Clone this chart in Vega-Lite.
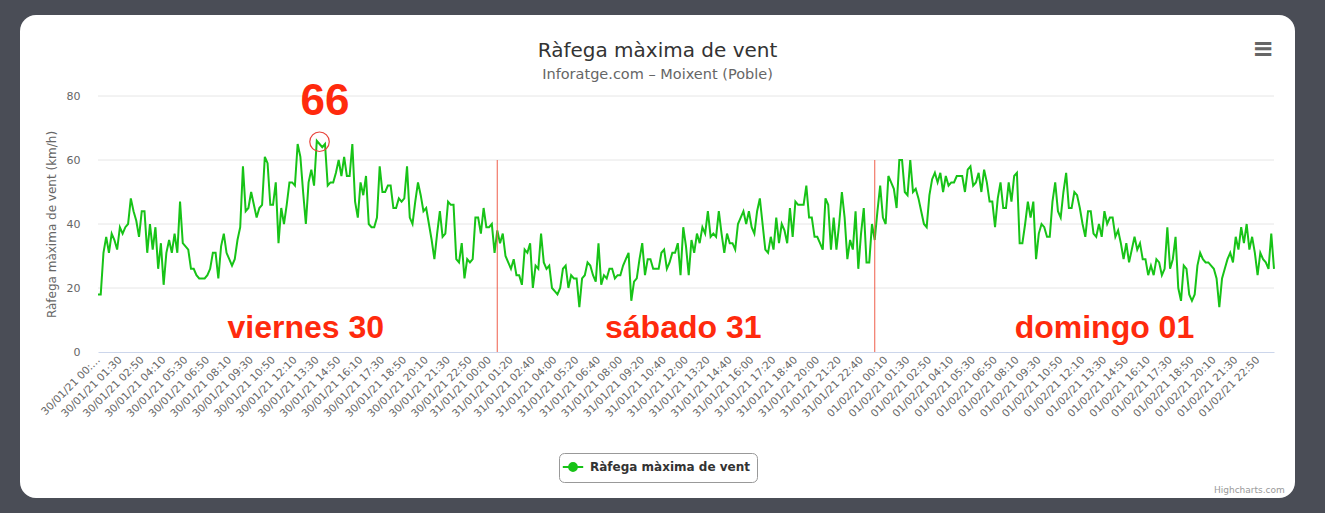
{
"$schema": "https://vega.github.io/schema/vega-lite/v6.json",
"width": 1275, "height": 483,
"autosize": {"type": "none"},
"padding": {"left": 20, "top": 15, "right": 30, "bottom": 15},
"background": "#4a4d56",
"config": {
  "view": {"fill": "white", "stroke": null, "cornerRadius": 16},
  "font": "DejaVu Sans",
  "legend": {"layout": {"bottom": {"anchor": "middle"}}}
},
"title": {"text": "Ràfega màxima de vent", "subtitle": "Inforatge.com – Moixent (Poble)", "anchor": "middle", "frame": "group", "offset": -66, "font": "DejaVu Sans", "fontSize": 20, "fontWeight": "normal", "color": "#333333", "subtitleFont": "DejaVu Sans", "subtitleFontSize": 14.5, "subtitleColor": "#666666", "subtitlePadding": 7},
"datasets": {
"grid": [{"g":20,"xa":"2021-01-30 00:10","xb":"2021-02-01 23:50"},{"g":40,"xa":"2021-01-30 00:10","xb":"2021-02-01 23:50"},{"g":60,"xa":"2021-01-30 00:10","xb":"2021-02-01 23:50"},{"g":80,"xa":"2021-01-30 00:10","xb":"2021-02-01 23:50"}],
"days": [{"t":"2021-01-31 00:30"},{"t":"2021-01-31 23:30"}],
"circle": [{"t":"2021-01-30 13:40","v":65.7}],
"big": [{"t":"2021-01-30 14:00","v":78,"txt":"66"}],
"daynames": [{"t":"2021-01-30 12:50","v":7.6,"txt":"viernes 30"},{"t":"2021-01-31 11:50","v":7.6,"txt":"sábado 31"},{"t":"2021-02-01 13:30","v":7.6,"txt":"domingo 01"}],
"menu": [{"t":"2021-02-01 23:10","v":94.7,"txt":"≡"}],
"credit": [{"t":"2021-02-01 22:20","v":-43.1,"txt":"Highcharts.com"}],
"wind": [
{"t":"2021-01-30 00:10","v":18},{"t":"2021-01-30 00:20","v":18},{"t":"2021-01-30 00:30","v":31},{"t":"2021-01-30 00:40","v":36},{"t":"2021-01-30 00:50","v":31},
{"t":"2021-01-30 01:00","v":37},{"t":"2021-01-30 01:10","v":35},{"t":"2021-01-30 01:20","v":32},{"t":"2021-01-30 01:30","v":39},{"t":"2021-01-30 01:40","v":37},{"t":"2021-01-30 01:50","v":39},
{"t":"2021-01-30 02:00","v":40},{"t":"2021-01-30 02:10","v":48},{"t":"2021-01-30 02:20","v":44},{"t":"2021-01-30 02:30","v":41},{"t":"2021-01-30 02:40","v":36},{"t":"2021-01-30 02:50","v":44},
{"t":"2021-01-30 03:00","v":44},{"t":"2021-01-30 03:10","v":31},{"t":"2021-01-30 03:20","v":40},{"t":"2021-01-30 03:30","v":32},{"t":"2021-01-30 03:40","v":39},{"t":"2021-01-30 03:50","v":26},
{"t":"2021-01-30 04:00","v":34},{"t":"2021-01-30 04:10","v":21},{"t":"2021-01-30 04:20","v":31},{"t":"2021-01-30 04:30","v":35},{"t":"2021-01-30 04:40","v":31},{"t":"2021-01-30 04:50","v":37},
{"t":"2021-01-30 05:00","v":31},{"t":"2021-01-30 05:10","v":47},{"t":"2021-01-30 05:20","v":34},{"t":"2021-01-30 05:30","v":33},{"t":"2021-01-30 05:40","v":32},{"t":"2021-01-30 05:50","v":26},
{"t":"2021-01-30 06:00","v":26},{"t":"2021-01-30 06:10","v":24},{"t":"2021-01-30 06:20","v":23},{"t":"2021-01-30 06:30","v":23},{"t":"2021-01-30 06:40","v":23},{"t":"2021-01-30 06:50","v":24},
{"t":"2021-01-30 07:00","v":26},{"t":"2021-01-30 07:10","v":31},{"t":"2021-01-30 07:20","v":31},{"t":"2021-01-30 07:30","v":23},{"t":"2021-01-30 07:40","v":33},{"t":"2021-01-30 07:50","v":37},
{"t":"2021-01-30 08:00","v":31},{"t":"2021-01-30 08:10","v":29},{"t":"2021-01-30 08:20","v":27},{"t":"2021-01-30 08:30","v":29},{"t":"2021-01-30 08:40","v":35},{"t":"2021-01-30 08:50","v":39},
{"t":"2021-01-30 09:00","v":58},{"t":"2021-01-30 09:10","v":44},{"t":"2021-01-30 09:20","v":45},{"t":"2021-01-30 09:30","v":50},{"t":"2021-01-30 09:40","v":46},{"t":"2021-01-30 09:50","v":42},
{"t":"2021-01-30 10:00","v":45},{"t":"2021-01-30 10:10","v":46},{"t":"2021-01-30 10:20","v":61},{"t":"2021-01-30 10:30","v":59},{"t":"2021-01-30 10:40","v":46},{"t":"2021-01-30 10:50","v":46},
{"t":"2021-01-30 11:00","v":53},{"t":"2021-01-30 11:10","v":34},{"t":"2021-01-30 11:20","v":45},{"t":"2021-01-30 11:30","v":40},{"t":"2021-01-30 11:40","v":46},{"t":"2021-01-30 11:50","v":53},
{"t":"2021-01-30 12:00","v":53},{"t":"2021-01-30 12:10","v":52},{"t":"2021-01-30 12:20","v":65},{"t":"2021-01-30 12:30","v":61},{"t":"2021-01-30 12:40","v":50},{"t":"2021-01-30 12:50","v":40},
{"t":"2021-01-30 13:00","v":53},{"t":"2021-01-30 13:10","v":57},{"t":"2021-01-30 13:20","v":52},{"t":"2021-01-30 13:30","v":66},{"t":"2021-01-30 13:40","v":65},{"t":"2021-01-30 13:50","v":64},
{"t":"2021-01-30 14:00","v":65},{"t":"2021-01-30 14:10","v":52},{"t":"2021-01-30 14:20","v":53},{"t":"2021-01-30 14:30","v":53},{"t":"2021-01-30 14:40","v":56},{"t":"2021-01-30 14:50","v":60},
{"t":"2021-01-30 15:00","v":55},{"t":"2021-01-30 15:10","v":61},{"t":"2021-01-30 15:20","v":55},{"t":"2021-01-30 15:30","v":55},{"t":"2021-01-30 15:40","v":65},{"t":"2021-01-30 15:50","v":47},
{"t":"2021-01-30 16:00","v":42},{"t":"2021-01-30 16:10","v":53},{"t":"2021-01-30 16:20","v":49},{"t":"2021-01-30 16:30","v":55},{"t":"2021-01-30 16:40","v":40},{"t":"2021-01-30 16:50","v":39},
{"t":"2021-01-30 17:00","v":39},{"t":"2021-01-30 17:10","v":42},{"t":"2021-01-30 17:20","v":58},{"t":"2021-01-30 17:30","v":50},{"t":"2021-01-30 17:40","v":50},{"t":"2021-01-30 17:50","v":52},
{"t":"2021-01-30 18:00","v":52},{"t":"2021-01-30 18:10","v":45},{"t":"2021-01-30 18:20","v":45},{"t":"2021-01-30 18:30","v":48},{"t":"2021-01-30 18:40","v":47},{"t":"2021-01-30 18:50","v":48},
{"t":"2021-01-30 19:00","v":58},{"t":"2021-01-30 19:10","v":42},{"t":"2021-01-30 19:20","v":40},{"t":"2021-01-30 19:30","v":47},{"t":"2021-01-30 19:40","v":53},{"t":"2021-01-30 19:50","v":49},
{"t":"2021-01-30 20:00","v":44},{"t":"2021-01-30 20:10","v":45},{"t":"2021-01-30 20:20","v":40},{"t":"2021-01-30 20:30","v":35},{"t":"2021-01-30 20:40","v":29},{"t":"2021-01-30 20:50","v":37},
{"t":"2021-01-30 21:00","v":44},{"t":"2021-01-30 21:10","v":36},{"t":"2021-01-30 21:20","v":37},{"t":"2021-01-30 21:30","v":47},{"t":"2021-01-30 21:40","v":46},{"t":"2021-01-30 21:50","v":46},
{"t":"2021-01-30 22:00","v":29},{"t":"2021-01-30 22:10","v":28},{"t":"2021-01-30 22:20","v":34},{"t":"2021-01-30 22:30","v":23},{"t":"2021-01-30 22:40","v":29},{"t":"2021-01-30 22:50","v":28},
{"t":"2021-01-30 23:00","v":29},{"t":"2021-01-30 23:10","v":42},{"t":"2021-01-30 23:20","v":42},{"t":"2021-01-30 23:30","v":37},{"t":"2021-01-30 23:40","v":45},{"t":"2021-01-30 23:50","v":39},
{"t":"2021-01-31 00:00","v":39},{"t":"2021-01-31 00:10","v":40},{"t":"2021-01-31 00:20","v":31},{"t":"2021-01-31 00:30","v":38},{"t":"2021-01-31 00:40","v":34},{"t":"2021-01-31 00:50","v":37},
{"t":"2021-01-31 01:00","v":30},{"t":"2021-01-31 01:10","v":28},{"t":"2021-01-31 01:20","v":26},{"t":"2021-01-31 01:30","v":29},{"t":"2021-01-31 01:40","v":24},{"t":"2021-01-31 01:50","v":24},
{"t":"2021-01-31 02:00","v":21},{"t":"2021-01-31 02:10","v":32},{"t":"2021-01-31 02:20","v":31},{"t":"2021-01-31 02:30","v":34},{"t":"2021-01-31 02:40","v":20},{"t":"2021-01-31 02:50","v":27},
{"t":"2021-01-31 03:00","v":26},{"t":"2021-01-31 03:10","v":37},{"t":"2021-01-31 03:20","v":28},{"t":"2021-01-31 03:30","v":26},{"t":"2021-01-31 03:40","v":27},{"t":"2021-01-31 03:50","v":20},
{"t":"2021-01-31 04:00","v":19},{"t":"2021-01-31 04:10","v":18},{"t":"2021-01-31 04:20","v":20},{"t":"2021-01-31 04:30","v":26},{"t":"2021-01-31 04:40","v":27},{"t":"2021-01-31 04:50","v":20},
{"t":"2021-01-31 05:00","v":24},{"t":"2021-01-31 05:10","v":23},{"t":"2021-01-31 05:20","v":23},{"t":"2021-01-31 05:30","v":14},{"t":"2021-01-31 05:40","v":23},{"t":"2021-01-31 05:50","v":24},
{"t":"2021-01-31 06:00","v":28},{"t":"2021-01-31 06:10","v":27},{"t":"2021-01-31 06:20","v":24},{"t":"2021-01-31 06:30","v":22},{"t":"2021-01-31 06:40","v":34},{"t":"2021-01-31 06:50","v":21},
{"t":"2021-01-31 07:00","v":24},{"t":"2021-01-31 07:10","v":23},{"t":"2021-01-31 07:20","v":26},{"t":"2021-01-31 07:30","v":26},{"t":"2021-01-31 07:40","v":23},{"t":"2021-01-31 07:50","v":24},
{"t":"2021-01-31 08:00","v":24},{"t":"2021-01-31 08:10","v":27},{"t":"2021-01-31 08:20","v":29},{"t":"2021-01-31 08:30","v":31},{"t":"2021-01-31 08:40","v":16},{"t":"2021-01-31 08:50","v":22},
{"t":"2021-01-31 09:00","v":23},{"t":"2021-01-31 09:10","v":29},{"t":"2021-01-31 09:20","v":34},{"t":"2021-01-31 09:30","v":24},{"t":"2021-01-31 09:40","v":29},{"t":"2021-01-31 09:50","v":29},
{"t":"2021-01-31 10:00","v":26},{"t":"2021-01-31 10:10","v":26},{"t":"2021-01-31 10:20","v":26},{"t":"2021-01-31 10:30","v":31},{"t":"2021-01-31 10:40","v":32},{"t":"2021-01-31 10:50","v":26},
{"t":"2021-01-31 11:00","v":28},{"t":"2021-01-31 11:10","v":31},{"t":"2021-01-31 11:20","v":31},{"t":"2021-01-31 11:30","v":34},{"t":"2021-01-31 11:40","v":24},{"t":"2021-01-31 11:50","v":39},
{"t":"2021-01-31 12:00","v":33},{"t":"2021-01-31 12:10","v":24},{"t":"2021-01-31 12:20","v":35},{"t":"2021-01-31 12:30","v":31},{"t":"2021-01-31 12:40","v":37},{"t":"2021-01-31 12:50","v":34},
{"t":"2021-01-31 13:00","v":39},{"t":"2021-01-31 13:10","v":37},{"t":"2021-01-31 13:20","v":44},{"t":"2021-01-31 13:30","v":36},{"t":"2021-01-31 13:40","v":37},{"t":"2021-01-31 13:50","v":36},
{"t":"2021-01-31 14:00","v":44},{"t":"2021-01-31 14:10","v":37},{"t":"2021-01-31 14:20","v":31},{"t":"2021-01-31 14:30","v":37},{"t":"2021-01-31 14:40","v":34},{"t":"2021-01-31 14:50","v":34},
{"t":"2021-01-31 15:00","v":32},{"t":"2021-01-31 15:10","v":40},{"t":"2021-01-31 15:20","v":42},{"t":"2021-01-31 15:30","v":44},{"t":"2021-01-31 15:40","v":40},{"t":"2021-01-31 15:50","v":44},
{"t":"2021-01-31 16:00","v":39},{"t":"2021-01-31 16:10","v":37},{"t":"2021-01-31 16:20","v":44},{"t":"2021-01-31 16:30","v":48},{"t":"2021-01-31 16:40","v":40},{"t":"2021-01-31 16:50","v":32},
{"t":"2021-01-31 17:00","v":31},{"t":"2021-01-31 17:10","v":36},{"t":"2021-01-31 17:20","v":32},{"t":"2021-01-31 17:30","v":42},{"t":"2021-01-31 17:40","v":34},{"t":"2021-01-31 17:50","v":40},
{"t":"2021-01-31 18:00","v":38},{"t":"2021-01-31 18:10","v":34},{"t":"2021-01-31 18:20","v":45},{"t":"2021-01-31 18:30","v":36},{"t":"2021-01-31 18:40","v":47},{"t":"2021-01-31 18:50","v":46},
{"t":"2021-01-31 19:00","v":46},{"t":"2021-01-31 19:10","v":46},{"t":"2021-01-31 19:20","v":52},{"t":"2021-01-31 19:30","v":42},{"t":"2021-01-31 19:40","v":42},{"t":"2021-01-31 19:50","v":36},
{"t":"2021-01-31 20:00","v":36},{"t":"2021-01-31 20:10","v":34},{"t":"2021-01-31 20:20","v":32},{"t":"2021-01-31 20:30","v":48},{"t":"2021-01-31 20:40","v":46},{"t":"2021-01-31 20:50","v":32},
{"t":"2021-01-31 21:00","v":42},{"t":"2021-01-31 21:10","v":32},{"t":"2021-01-31 21:20","v":40},{"t":"2021-01-31 21:30","v":50},{"t":"2021-01-31 21:40","v":42},{"t":"2021-01-31 21:50","v":29},
{"t":"2021-01-31 22:00","v":35},{"t":"2021-01-31 22:10","v":32},{"t":"2021-01-31 22:20","v":44},{"t":"2021-01-31 22:30","v":26},{"t":"2021-01-31 22:40","v":37},{"t":"2021-01-31 22:50","v":45},
{"t":"2021-01-31 23:00","v":28},{"t":"2021-01-31 23:10","v":28},{"t":"2021-01-31 23:20","v":40},{"t":"2021-01-31 23:30","v":35},{"t":"2021-01-31 23:40","v":44},{"t":"2021-01-31 23:50","v":52},
{"t":"2021-02-01 00:00","v":42},{"t":"2021-02-01 00:10","v":40},{"t":"2021-02-01 00:20","v":55},{"t":"2021-02-01 00:30","v":53},{"t":"2021-02-01 00:40","v":51},{"t":"2021-02-01 00:50","v":45},
{"t":"2021-02-01 01:00","v":60},{"t":"2021-02-01 01:10","v":60},{"t":"2021-02-01 01:20","v":50},{"t":"2021-02-01 01:30","v":49},{"t":"2021-02-01 01:40","v":60},{"t":"2021-02-01 01:50","v":50},
{"t":"2021-02-01 02:00","v":51},{"t":"2021-02-01 02:10","v":48},{"t":"2021-02-01 02:20","v":44},{"t":"2021-02-01 02:30","v":40},{"t":"2021-02-01 02:40","v":39},{"t":"2021-02-01 02:50","v":49},
{"t":"2021-02-01 03:00","v":54},{"t":"2021-02-01 03:10","v":56},{"t":"2021-02-01 03:20","v":53},{"t":"2021-02-01 03:30","v":56},{"t":"2021-02-01 03:40","v":50},{"t":"2021-02-01 03:50","v":55},
{"t":"2021-02-01 04:00","v":52},{"t":"2021-02-01 04:10","v":53},{"t":"2021-02-01 04:20","v":53},{"t":"2021-02-01 04:30","v":55},{"t":"2021-02-01 04:40","v":55},{"t":"2021-02-01 04:50","v":55},
{"t":"2021-02-01 05:00","v":50},{"t":"2021-02-01 05:10","v":57},{"t":"2021-02-01 05:20","v":58},{"t":"2021-02-01 05:30","v":52},{"t":"2021-02-01 05:40","v":53},{"t":"2021-02-01 05:50","v":56},
{"t":"2021-02-01 06:00","v":50},{"t":"2021-02-01 06:10","v":57},{"t":"2021-02-01 06:20","v":53},{"t":"2021-02-01 06:30","v":47},{"t":"2021-02-01 06:40","v":47},{"t":"2021-02-01 06:50","v":39},
{"t":"2021-02-01 07:00","v":48},{"t":"2021-02-01 07:10","v":53},{"t":"2021-02-01 07:20","v":45},{"t":"2021-02-01 07:30","v":45},{"t":"2021-02-01 07:40","v":53},{"t":"2021-02-01 07:50","v":47},
{"t":"2021-02-01 08:00","v":55},{"t":"2021-02-01 08:10","v":56},{"t":"2021-02-01 08:20","v":34},{"t":"2021-02-01 08:30","v":34},{"t":"2021-02-01 08:40","v":40},{"t":"2021-02-01 08:50","v":47},
{"t":"2021-02-01 09:00","v":42},{"t":"2021-02-01 09:10","v":47},{"t":"2021-02-01 09:20","v":29},{"t":"2021-02-01 09:30","v":37},{"t":"2021-02-01 09:40","v":40},{"t":"2021-02-01 09:50","v":39},
{"t":"2021-02-01 10:00","v":36},{"t":"2021-02-01 10:10","v":36},{"t":"2021-02-01 10:20","v":47},{"t":"2021-02-01 10:30","v":53},{"t":"2021-02-01 10:40","v":44},{"t":"2021-02-01 10:50","v":42},
{"t":"2021-02-01 11:00","v":50},{"t":"2021-02-01 11:10","v":56},{"t":"2021-02-01 11:20","v":45},{"t":"2021-02-01 11:30","v":45},{"t":"2021-02-01 11:40","v":50},{"t":"2021-02-01 11:50","v":49},
{"t":"2021-02-01 12:00","v":45},{"t":"2021-02-01 12:10","v":40},{"t":"2021-02-01 12:20","v":36},{"t":"2021-02-01 12:30","v":44},{"t":"2021-02-01 12:40","v":44},{"t":"2021-02-01 12:50","v":37},
{"t":"2021-02-01 13:00","v":36},{"t":"2021-02-01 13:10","v":40},{"t":"2021-02-01 13:20","v":36},{"t":"2021-02-01 13:30","v":44},{"t":"2021-02-01 13:40","v":40},{"t":"2021-02-01 13:50","v":42},
{"t":"2021-02-01 14:00","v":42},{"t":"2021-02-01 14:10","v":36},{"t":"2021-02-01 14:20","v":38},{"t":"2021-02-01 14:30","v":34},{"t":"2021-02-01 14:40","v":29},{"t":"2021-02-01 14:50","v":34},
{"t":"2021-02-01 15:00","v":28},{"t":"2021-02-01 15:10","v":32},{"t":"2021-02-01 15:20","v":36},{"t":"2021-02-01 15:30","v":32},{"t":"2021-02-01 15:40","v":34},{"t":"2021-02-01 15:50","v":29},
{"t":"2021-02-01 16:00","v":29},{"t":"2021-02-01 16:10","v":24},{"t":"2021-02-01 16:20","v":27},{"t":"2021-02-01 16:30","v":24},{"t":"2021-02-01 16:40","v":29},{"t":"2021-02-01 16:50","v":28},
{"t":"2021-02-01 17:00","v":24},{"t":"2021-02-01 17:10","v":26},{"t":"2021-02-01 17:20","v":39},{"t":"2021-02-01 17:30","v":26},{"t":"2021-02-01 17:40","v":29},{"t":"2021-02-01 17:50","v":36},
{"t":"2021-02-01 18:00","v":20},{"t":"2021-02-01 18:10","v":16},{"t":"2021-02-01 18:20","v":27},{"t":"2021-02-01 18:30","v":26},{"t":"2021-02-01 18:40","v":18},{"t":"2021-02-01 18:50","v":16},
{"t":"2021-02-01 19:00","v":18},{"t":"2021-02-01 19:10","v":27},{"t":"2021-02-01 19:20","v":31},{"t":"2021-02-01 19:30","v":29},{"t":"2021-02-01 19:40","v":28},{"t":"2021-02-01 19:50","v":28},
{"t":"2021-02-01 20:00","v":27},{"t":"2021-02-01 20:10","v":26},{"t":"2021-02-01 20:20","v":23},{"t":"2021-02-01 20:30","v":14},{"t":"2021-02-01 20:40","v":23},{"t":"2021-02-01 20:50","v":26},
{"t":"2021-02-01 21:00","v":29},{"t":"2021-02-01 21:10","v":31},{"t":"2021-02-01 21:20","v":28},{"t":"2021-02-01 21:30","v":36},{"t":"2021-02-01 21:40","v":32},{"t":"2021-02-01 21:50","v":39},
{"t":"2021-02-01 22:00","v":34},{"t":"2021-02-01 22:10","v":40},{"t":"2021-02-01 22:20","v":32},{"t":"2021-02-01 22:30","v":36},{"t":"2021-02-01 22:40","v":31},{"t":"2021-02-01 22:50","v":24},
{"t":"2021-02-01 23:00","v":31},{"t":"2021-02-01 23:10","v":29},{"t":"2021-02-01 23:20","v":28},{"t":"2021-02-01 23:30","v":26},{"t":"2021-02-01 23:40","v":37},{"t":"2021-02-01 23:50","v":26}
]
},
"layer": [
{
 "data": {"name": "grid"},
 "mark": {"type": "rule", "color": "#e6e6e6", "strokeWidth": 1},
 "encoding": {
  "x": {"field": "xa", "type": "ordinal"},
  "x2": {"field": "xb"},
  "y": {"field": "g", "type": "quantitative"}
 }
},
{
 "data": {"name": "wind"},
 "mark": {"type": "line", "strokeWidth": 2},
 "encoding": {
  "x": {"field": "t", "type": "ordinal",
        "scale": {"type": "point", "range": [78, 1254], "padding": 0},
        "axis": {"orient": "bottom", "offset": -146, "zindex": 1, "title": null, "domain": true, "domainColor": "#ccd6eb", "ticks": false, "grid": false,
                 "labelAngle": -45, "labelAlign": "right", "labelBaseline": "middle", "labelPadding": 6, "labelOverlap": false, "labelBound": false,
                 "labelFont": "DejaVu Sans", "labelFontSize": 10.5, "labelColor": "#666666",
                 "labelExpr": "substring(datum.value,8,10)+'/'+substring(datum.value,5,7)+'/'+substring(datum.value,2,4)+' '+(datum.value=='2021-01-30 00:10' ? '00:…' : substring(datum.value,11,16))",
                 "values": ["2021-01-30 00:10","2021-01-30 01:30","2021-01-30 02:50","2021-01-30 04:10","2021-01-30 05:30","2021-01-30 06:50","2021-01-30 08:10","2021-01-30 09:30","2021-01-30 10:50","2021-01-30 12:10","2021-01-30 13:30","2021-01-30 14:50","2021-01-30 16:10","2021-01-30 17:30","2021-01-30 18:50","2021-01-30 20:10","2021-01-30 21:30","2021-01-30 22:50",
                            "2021-01-31 00:00","2021-01-31 01:20","2021-01-31 02:40","2021-01-31 04:00","2021-01-31 05:20","2021-01-31 06:40","2021-01-31 08:00","2021-01-31 09:20","2021-01-31 10:40","2021-01-31 12:00","2021-01-31 13:20","2021-01-31 14:40","2021-01-31 16:00","2021-01-31 17:20","2021-01-31 18:40","2021-01-31 20:00","2021-01-31 21:20","2021-01-31 22:40",
                            "2021-02-01 00:10","2021-02-01 01:30","2021-02-01 02:50","2021-02-01 04:10","2021-02-01 05:30","2021-02-01 06:50","2021-02-01 08:10","2021-02-01 09:30","2021-02-01 10:50","2021-02-01 12:10","2021-02-01 13:30","2021-02-01 14:50","2021-02-01 16:10","2021-02-01 17:30","2021-02-01 18:50","2021-02-01 20:10","2021-02-01 21:30","2021-02-01 22:50"]}},
  "y": {"field": "v", "type": "quantitative",
        "scale": {"domain": [-45.625, 105.3125], "nice": false, "zero": false},
        "axis": {"orient": "left", "offset": -68, "zindex": 1, "values": [0, 20, 40, 60, 80], "domain": false, "ticks": false, "grid": false,
                 "labelPadding": 8, "labelFont": "DejaVu Sans", "labelFontSize": 11, "labelColor": "#666666",
                 "title": "Ràfega màxima de vent (km/h)", "titleFont": "DejaVu Sans", "titleFontSize": 12, "titleFontWeight": "normal", "titleColor": "#666666", "titlePadding": 8, "titleY": 209}},
  "color": {"datum": "Ràfega màxima de vent", "scale": {"range": ["#17c317"]},
            "legend": {"orient": "bottom", "offset": -45, "title": null, "fillColor": "white", "strokeColor": "#999999", "cornerRadius": 5, "padding": 7, "labelOffset": 10,
                       "labelFont": "DejaVu Sans", "labelFontSize": 12, "labelFontWeight": "bold", "labelColor": "#333333",
                       "symbolType": "M-1.7,0L1.7,0M-0.65,0A0.65,0.65,0,1,1,0.65,0A0.65,0.65,0,1,1,-0.65,0Z", "symbolSize": 144, "symbolStrokeWidth": 2, "symbolFillColor": "#17c317", "symbolStrokeColor": "#17c317",
                       "encode": {"symbols": {"update": {"fill": {"value": "#17c317"}, "stroke": {"value": "#17c317"}, "strokeWidth": {"value": 2}}}}}}
 }
},
{
 "data": {"name": "days"},
 "mark": {"type": "rule", "color": "#f0604f", "strokeWidth": 1.2, "opacity": 0.85},
 "encoding": {
  "x": {"field": "t", "type": "ordinal"},
  "y": {"datum": 0},
  "y2": {"datum": 60}
 }
},
{
 "data": {"name": "circle"},
 "mark": {"type": "point", "shape": "circle", "filled": false, "size": 380, "stroke": "#e8433a", "strokeWidth": 1.2, "opacity": 1},
 "encoding": {
  "x": {"field": "t", "type": "ordinal"},
  "y": {"field": "v", "type": "quantitative"}
 }
},
{
 "data": {"name": "big"},
 "mark": {"type": "text", "font": "Liberation Sans", "fontWeight": "bold", "fontSize": 44, "baseline": "middle", "align": "center", "fill": "#ff2a0d"},
 "encoding": {"x": {"field": "t", "type": "ordinal"}, "y": {"field": "v", "type": "quantitative"}, "text": {"field": "txt"}}
},
{
 "data": {"name": "daynames"},
 "mark": {"type": "text", "font": "Liberation Sans", "fontWeight": "bold", "fontSize": 32, "baseline": "middle", "align": "center", "fill": "#ff2a0d"},
 "encoding": {"x": {"field": "t", "type": "ordinal"}, "y": {"field": "v", "type": "quantitative"}, "text": {"field": "txt"}}
},
{
 "data": {"name": "menu"},
 "mark": {"type": "text", "font": "DejaVu Sans", "fontWeight": "bold", "fontSize": 26, "baseline": "middle", "align": "center", "fill": "#666666"},
 "encoding": {"x": {"field": "t", "type": "ordinal"}, "y": {"field": "v", "type": "quantitative"}, "text": {"field": "txt"}}
},
{
 "data": {"name": "credit"},
 "mark": {"type": "text", "font": "DejaVu Sans", "fontSize": 9, "baseline": "middle", "align": "center", "fill": "#999999"},
 "encoding": {"x": {"field": "t", "type": "ordinal"}, "y": {"field": "v", "type": "quantitative"}, "text": {"field": "txt"}}
}
]
}
